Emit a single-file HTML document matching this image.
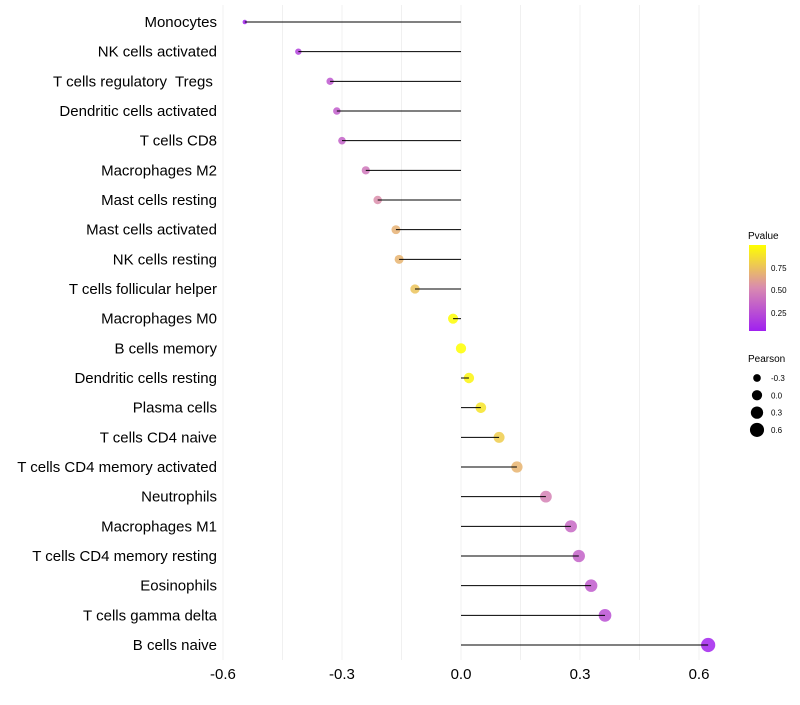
<!DOCTYPE html>
<html><head><meta charset="utf-8"><style>
body{margin:0;background:#fff;font-family:"Liberation Sans",Arial,sans-serif;}
svg text{font-family:"Liberation Sans",Arial,sans-serif;white-space:pre;}
</style></head><body>
<svg id="chart" width="800" height="700" xmlns="http://www.w3.org/2000/svg">
<defs><linearGradient id="pg" x1="0" y1="1" x2="0" y2="0">
<stop offset="0" stop-color="#a020f0"/><stop offset="0.5" stop-color="#d98ab0"/><stop offset="1" stop-color="#ffff00"/></linearGradient></defs>
<g id="grid"></g><g id="dots"></g><g id="marks"></g><g id="labels"></g>
<g>
<text x="748" y="239" font-size="10" fill="#000">Pvalue</text>
<rect x="749" y="245" width="17" height="86" fill="url(#pg)"/>
<text x="771" y="271" font-size="8">0.75</text>
<text x="771" y="293" font-size="8">0.50</text>
<text x="771" y="316" font-size="8">0.25</text>
<text x="748" y="362" font-size="10">Pearson</text>
<g id="sizeleg"></g>
</g>
</svg>
<script>
const categories=["Monocytes","NK cells activated","T cells regulatory  Tregs ","Dendritic cells activated","T cells CD8","Macrophages M2","Mast cells resting","Mast cells activated","NK cells resting","T cells follicular helper","Macrophages M0","B cells memory","Dendritic cells resting","Plasma cells","T cells CD4 naive","T cells CD4 memory activated","Neutrophils","Macrophages M1","T cells CD4 memory resting","Eosinophils","T cells gamma delta","B cells naive"];
const pearson=[-0.545,-0.41,-0.33,-0.313,-0.30,-0.24,-0.21,-0.164,-0.156,-0.116,-0.02,0.0,0.02,0.05,0.096,0.141,0.214,0.277,0.297,0.328,0.363,0.623];
const pvalue=[0.02,0.15,0.25,0.28,0.3,0.4,0.5,0.65,0.66,0.72,0.96,0.99,0.93,0.86,0.76,0.66,0.45,0.33,0.3,0.27,0.22,0.02];
const xTicks=[-0.6,-0.3,0.0,0.3,0.6];
const sizeLegend=[-0.3,0.0,0.3,0.6];
const NS="http://www.w3.org/2000/svg";
const x=v=>461+v*396.7;
const y=i=>22+i*29.667;
const r=v=>Math.sqrt(Math.max(2,5+39*(v+0.545)));
function hex(c){return[parseInt(c.slice(1,3),16),parseInt(c.slice(3,5),16),parseInt(c.slice(5,7),16)];}
const stops=[[0,hex("#a020f0")],[0.5,hex("#d98ab0")],[1,hex("#ffff00")]];
function col(p){const t=Math.min(1,Math.max(0,p/0.97));let a=t<0.5?stops[0]:stops[1],b=t<0.5?stops[1]:stops[2];const f=(t-a[0])/(b[0]-a[0]);return"rgb("+a[1].map((v,k)=>Math.round(v+(b[1][k]-v)*f)).join(",")+")";}
function mk(tag,at,parent){const e=document.createElementNS(NS,tag);for(const k in at)e.setAttribute(k,at[k]);document.getElementById(parent).appendChild(e);return e;}
for(let v=-0.6;v<=0.651;v+=0.15){const g=mk("line",{x1:x(v),x2:x(v),y1:5,y2:660,stroke:"#f0f0f0","stroke-width":1},"grid");

}
xTicks.forEach(t=>{const e=mk("text",{x:x(t),y:679,"font-size":15,"text-anchor":"middle",fill:"#000"},"labels");e.textContent=t.toFixed(1);

});
categories.forEach((c,i)=>{
const t=mk("text",{x:217,y:y(i)+5,"font-size":15,"text-anchor":"end",fill:"#000"},"labels");t.textContent=c;


const d=mk("circle",{cx:x(pearson[i]),cy:y(i),r:r(pearson[i]),fill:col(pvalue[i]),"fill-opacity":0.85},"dots");


const l=mk("line",{x1:x(0),x2:x(pearson[i]),y1:y(i),y2:y(i),stroke:"#000","stroke-width":1},"marks");


});
sizeLegend.forEach((v,i)=>{const cy=378+i*17.3;
const c=mk("circle",{cx:757,cy:cy,r:r(v),fill:"#000"},"sizeleg");


const t=mk("text",{x:771,y:cy+3,"font-size":8},"sizeleg");t.textContent=v.toFixed(1);

});
</script>
</body></html>
